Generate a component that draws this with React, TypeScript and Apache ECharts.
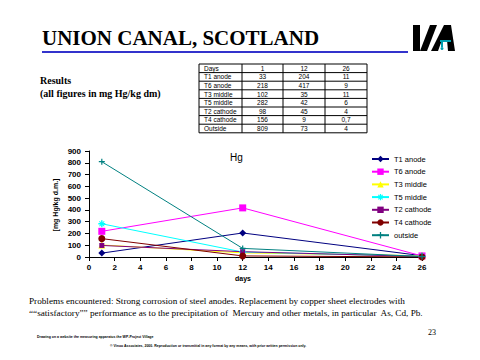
import React, { useEffect, useRef } from "react";
import * as echarts from "echarts";

const days = [1, 12, 26];
const seriesNames = ["T1 anode", "T6 anode", "T3 middle", "T5 middle", "T2 cathode", "T4 cathode", "outside"];
const t1Anode = [33, 204, 11];
const t6Anode = [218, 417, 9];
const t3Middle = [102, 35, 11];
const t5Middle = [282, 42, 6];
const t2Cathode = [98, 45, 4];
const t4Cathode = [156, 9, 0.7];
const outside = [809, 73, 4];
const tableLabels = ["T1 anode", "T6 anode", "T3 middle", "T5 middle", "T2 cathode", "T4 cathode", "Outside"];

const allValues = [t1Anode, t6Anode, t3Middle, t5Middle, t2Cathode, t4Cathode, outside];
const colors = ["#000080", "#FF00FF", "#FFFF00", "#00FFFF", "#800080", "#800000", "#008080"];
const plusPath = "path://M4,0 L6,0 L6,4 L10,4 L10,6 L6,6 L6,10 L4,10 L4,6 L0,6 L0,4 L4,4 Z";
const starPath = "path://M4,0 L6,0 L6,3 L8,1 L9,2 L7,4 L10,4 L10,6 L7,6 L9,8 L8,9 L6,7 L6,10 L4,10 L4,7 L2,9 L1,8 L3,6 L0,6 L0,4 L3,4 L1,2 L2,1 L4,3 Z";
const symbols = ["diamond", "rect", "triangle", starPath, "rect", "circle", plusPath];
const symbolSizes = [7, 7, 7, 7, 5, 7, 6];

export default function App() {
  const ref = useRef<HTMLDivElement>(null);
  useEffect(() => {
    if (!ref.current) return;
    const chart = echarts.init(ref.current, null, { renderer: "svg" });

    const serif = "Liberation Serif";
    const sans = "Liberation Sans";

    const graphics: any[] = [];
    // Title
    graphics.push({
      type: "text", left: 42, top: 27,
      style: { text: "UNION CANAL, SCOTLAND", font: `bold 21px '${serif}'`, fill: "#000" },
    });
    graphics.push({
      type: "rect", shape: { x: 42, y: 51, width: 366, height: 2 },
      style: { fill: "#3333cc" },
    });
    // Logo
    const logoBlack = [
      [[413, 25], [420, 25], [420, 51], [413, 51]],
      [[420, 51], [427, 51], [437, 25], [430, 25]],
      [[431, 51], [444, 25], [451, 25], [455, 51], [448, 51], [447, 40], [442, 40], [438, 51]],
    ];
    logoBlack.forEach((pts) =>
      graphics.push({ type: "polygon", shape: { points: pts }, style: { fill: "#000" } })
    );
    graphics.push({ type: "rect", shape: { x: 440, y: 40, width: 11, height: 2 }, style: { fill: "#00a0b0" } });
    graphics.push({ type: "rect", shape: { x: 441, y: 42, width: 2, height: 5 }, style: { fill: "#00a0b0" } });
    graphics.push({ type: "circle", shape: { cx: 442, cy: 48.5, r: 1.5 }, style: { fill: "#00a0b0" } });

    // Results
    graphics.push({
      type: "text", left: 40, top: 75,
      style: { text: "Results", font: `bold 10px '${serif}'`, fill: "#000" },
    });
    graphics.push({
      type: "text", left: 40, top: 88,
      style: { text: "(all figures in mg Hg/kg dm)", font: `bold 10px '${serif}'`, fill: "#000" },
    });

    // Table
    const colX = [199, 242, 283, 325, 367];
    const top = 64;
    const rowH = 8.6;
    const nRows = tableLabels.length + 1;
    const headerRow = ["Days", ...days.map(String)];
    const rows = [headerRow, ...tableLabels.map((l, i) => [l, ...allValues[i].map((v) => String(v).replace(".", ","))])];
    graphics.push({
      type: "rect", shape: { x: colX[0], y: top, width: colX[4] - colX[0], height: rowH * nRows },
      style: { fill: "#fff", stroke: "#000", lineWidth: 1 },
    });
    for (let r = 1; r < nRows; r++) {
      graphics.push({
        type: "line", shape: { x1: colX[0], y1: top + r * rowH, x2: colX[4], y2: top + r * rowH },
        style: { stroke: "#000", lineWidth: 1 },
      });
    }
    for (let c = 1; c < 4; c++) {
      graphics.push({
        type: "line", shape: { x1: colX[c], y1: top, x2: colX[c], y2: top + rowH * nRows },
        style: { stroke: "#000", lineWidth: 1 },
      });
    }
    rows.forEach((row, r) => {
      row.forEach((cell, c) => {
        const cy = top + r * rowH + rowH / 2;
        if (c === 0) {
          graphics.push({
            type: "text", x: colX[0] + 5, y: cy,
            style: { text: cell, font: `6.5px '${sans}'`, fill: "#000", verticalAlign: "middle", align: "left" },
          });
        } else {
          graphics.push({
            type: "text", x: (colX[c] + colX[c + 1]) / 2, y: cy,
            style: { text: cell, font: `6.5px '${sans}'`, fill: "#000", verticalAlign: "middle", align: "center" },
          });
        }
      });
    });

    // Chart title Hg
    graphics.push({
      type: "text", x: 230, y: 157,
      style: { text: "Hg", font: `10px '${sans}'`, fill: "#000", verticalAlign: "middle" },
    });
    // Y name
    graphics.push({
      type: "text", x: 55, y: 205, rotation: Math.PI / 2,
      style: { text: "[mg Hg/kg d.m.]", font: `bold 7px '${sans}'`, fill: "#000", align: "center", verticalAlign: "middle" },
    });
    // X name
    graphics.push({
      type: "text", x: 243, y: 278,
      style: { text: "days", font: `bold 7px '${sans}'`, fill: "#000", align: "center", verticalAlign: "middle" },
    });

    // Bottom text
    graphics.push({
      type: "text", left: 29, top: 296,
      style: {
        text: "Problems encountered: Strong corrosion of steel anodes. Replacement by copper sheet electrodes with",
        font: `9.2px '${serif}'`, fill: "#000",
      },
    });
    graphics.push({
      type: "text", left: 29, top: 308,
      style: {
        text: "\u201C\u201Csatisfactory\u201D\u201D performance as to the precipitation of  Mercury and other metals, in particular  As, Cd, Pb.",
        font: `9.2px '${serif}'`, fill: "#000",
      },
    });
    graphics.push({
      type: "text", left: 428, top: 328,
      style: { text: "23", font: `8px '${serif}'`, fill: "#000" },
    });
    graphics.push({
      type: "text", left: 37, top: 335,
      style: { text: "Drawing on a website the measuring apparatus the WP-Project Village", font: `bold 3.5px '${sans}'`, fill: "#000" },
    });
    graphics.push({
      type: "text", left: 110, top: 344,
      style: {
        text: "\u00A9 Vinoo Associates, 2000. Reproduction or transmittal in any format by any means, with prior written permission only.",
        font: `bold 3.5px '${sans}'`, fill: "#000",
      },
    });

    const axisLabelStyle = { color: "#000", fontSize: 8, fontWeight: "bold" as const, fontFamily: sans };

    chart.setOption({
      animation: false,
      backgroundColor: "#fff",
      grid: { left: 89, right: 58, top: 151, bottom: 103, containLabel: false },
      legend: {
        orient: "vertical",
        left: 366,
        top: 150,
        itemGap: 4.7,
        itemWidth: 17,
        itemHeight: 8,
        textStyle: { color: "#000", fontSize: 7.5, fontFamily: sans },
        data: seriesNames,
      },
      xAxis: {
        type: "value", min: 0, max: 26, interval: 2,
        axisLine: { show: true, lineStyle: { color: "#000", width: 1 } },
        axisTick: { show: true, length: 4, lineStyle: { color: "#000" } },
        axisLabel: { ...axisLabelStyle, margin: 6 },
        splitLine: { show: false },
      },
      yAxis: {
        type: "value", min: 0, max: 900, interval: 100,
        axisLine: { show: true, lineStyle: { color: "#000", width: 1 } },
        axisTick: { show: true, length: 4, lineStyle: { color: "#000" } },
        axisLabel: { ...axisLabelStyle, margin: 8 },
        splitLine: { show: false },
      },
      series: seriesNames.map((name, i) => ({
        name,
        type: "line",
        data: days.map((d, j) => [d, allValues[i][j]]),
        symbol: symbols[i],
        symbolSize: symbolSizes[i],
        showSymbol: true,
        itemStyle: { color: colors[i] },
        lineStyle: { color: colors[i], width: 1 },
      })),
      graphic: graphics,
    });

    return () => chart.dispose();
  }, []);

  return (
    <div
      ref={ref}
      style={{ position: "fixed", left: 0, top: 0, width: 480, height: 360, background: "#fff" }}
    />
  );
}
